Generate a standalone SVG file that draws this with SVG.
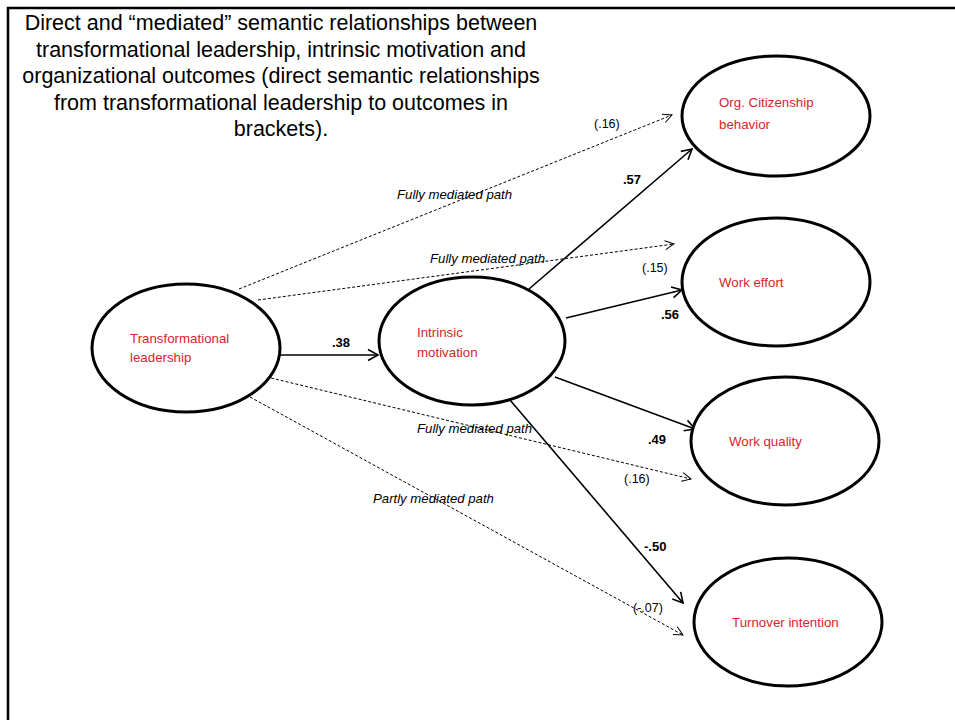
<svg xmlns="http://www.w3.org/2000/svg" width="955" height="720" viewBox="0 0 955 720">
<defs>
<style>
.bg{fill:#ffffff}
.frame{fill:none;stroke:#000;stroke-width:2.5}
.title{font-family:"Liberation Sans",Arial,sans-serif;font-size:21.5px;fill:#000;text-anchor:middle}
.node ellipse{fill:#fff;stroke:#000;stroke-width:3}
.lbl{font-family:"Liberation Sans",Arial,sans-serif;font-size:13.3px;fill:#d9232b}
.solid{fill:none;stroke:#000;stroke-width:1.6;marker-end:url(#ah)}
.dash{fill:none;stroke:#000;stroke-width:1;stroke-dasharray:3 2;marker-end:url(#ahd)}
.coef{font-family:"Liberation Sans",Arial,sans-serif;font-size:13px;font-weight:bold;fill:#000}
.br{font-family:"Liberation Sans",Arial,sans-serif;font-size:12.5px;fill:#000}
.it{font-family:"Liberation Sans",Arial,sans-serif;font-size:13.2px;font-style:italic;fill:#000}
</style>
<marker id="ah" markerUnits="userSpaceOnUse" viewBox="-12 -7 14 14" refX="0" refY="0" markerWidth="14" markerHeight="14" orient="auto">
<path d="M-10,-5.5 L0,0 L-10,5.5" fill="none" stroke="#000" stroke-width="1.6"/>
</marker>
<marker id="ahd" markerUnits="userSpaceOnUse" viewBox="-12 -7 14 14" refX="0" refY="0" markerWidth="14" markerHeight="14" orient="auto">
<path d="M-9,-4.5 L0,0 L-9,4.5" fill="none" stroke="#000" stroke-width="1"/>
</marker>
</defs>
<rect class="bg" x="0" y="0" width="955" height="720"/>
<path class="frame" d="M8,720 V8 H955"/>
<g id="title">
<text class="title" x="281" y="30">Direct and “mediated” semantic relationships between</text>
<text class="title" x="281" y="56.5">transformational leadership, intrinsic motivation and</text>
<text class="title" x="281" y="83">organizational outcomes (direct semantic relationships</text>
<text class="title" x="281" y="109.5">from transformational leadership to outcomes in</text>
<text class="title" x="281" y="136">brackets).</text>
</g>
<g id="connectors">
<path class="dash" d="M239,289 L672,115"/>
<path class="dash" d="M258,300 L674,244"/>
<path class="dash" d="M271,378 L691,479"/>
<path class="dash" d="M250,397 L683,635"/>
<path class="solid" d="M280,355 L378,355"/>
<path class="solid" d="M529,289 L692,149"/>
<path class="solid" d="M566,318 L682,290"/>
<path class="solid" d="M555,377 L695,429"/>
<path class="solid" d="M510,400 L683,603"/>
<text class="coef" x="332" y="347">.38</text>
<text class="coef" x="623" y="184">.57</text>
<text class="coef" x="661" y="319">.56</text>
<text class="coef" x="648" y="444">.49</text>
<text class="coef" x="644" y="551">-.50</text>
<text class="br" x="594" y="128">(.16)</text>
<text class="br" x="642" y="272">(.15)</text>
<text class="br" x="624" y="483">(.16)</text>
<text class="br" x="633" y="612">(-.07)</text>
<text class="it" x="397" y="199">Fully mediated path</text>
<text class="it" x="430" y="263">Fully mediated path</text>
<text class="it" x="417" y="433">Fully mediated path</text>
<text class="it" x="373" y="503">Partly mediated path</text>
</g>
<g id="node-tl" class="node">
<ellipse cx="186" cy="348" rx="94" ry="64"/>
<text class="lbl" x="130" y="343">Transformational</text>
<text class="lbl" x="130" y="362">leadership</text>
</g>
<g id="node-im" class="node">
<ellipse cx="472" cy="341" rx="93" ry="64"/>
<text class="lbl" x="417" y="337">Intrinsic</text>
<text class="lbl" x="417" y="357">motivation</text>
</g>
<g id="node-ocb" class="node">
<ellipse cx="776" cy="116" rx="94" ry="60"/>
<text class="lbl" x="719" y="107">Org. Citizenship</text>
<text class="lbl" x="719" y="129">behavior</text>
</g>
<g id="node-we" class="node">
<ellipse cx="776" cy="282" rx="94" ry="64"/>
<text class="lbl" x="719" y="287">Work effort</text>
</g>
<g id="node-wq" class="node">
<ellipse cx="785" cy="441" rx="94" ry="64"/>
<text class="lbl" x="729" y="446">Work quality</text>
</g>
<g id="node-ti" class="node">
<ellipse cx="788" cy="622" rx="94" ry="64"/>
<text class="lbl" x="732" y="627">Turnover intention</text>
</g>
</svg>
